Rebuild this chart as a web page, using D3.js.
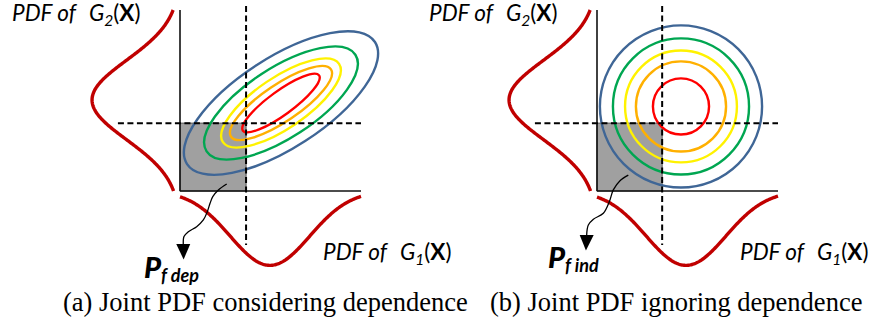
<!DOCTYPE html>
<html><head><meta charset="utf-8">
<script src="https://cdn.jsdelivr.net/npm/d3@7"></script>
<style>body{margin:0;background:#fff} svg{display:block}</style>
</head><body>
<svg id="chart" width="878" height="330"></svg>
<script>
// ---------- data ----------
const panels = ["a", "b"];
const captions = ["(a) Joint PDF considering dependence", "(b) Joint PDF ignoring dependence"];
const pfSubscripts = ["f dep", "f ind"];
const axisDomain = [0, 10];
const g1Mean = [4.97, 4.92];
const g2Mean = [5.03, 5.03];
const marginalSd = [2.2, 2.2];
const limitG1 = [3.65, 3.6];
const limitG2 = [3.75, 3.75];
const contourColors = ["#3f6696", "#00a651", "#fff200", "#ffb000", "#ff0000"];
// panel (a): correlated joint PDF contours (rotated ellipses)
const ellipseCenter = [5.58, 4.86];
const ellipseRx = [6.19, 4.90, 3.87, 3.33, 2.60];
const ellipseRy = [2.49, 1.93, 1.41, 1.02, 0.66];
const ellipseAngle = [33, 33, 34, 34, 36];
// panel (b): independent joint PDF contours (circles)
const circleCenter = [4.64, 4.67];
const circleR = [4.48, 3.76, 3.09, 2.49, 1.55];
// arrows from failure region to P_f labels
const arrowA = [[2.58,0.39],[2.12,0.06],[1.81,-0.31],[1.66,-0.68],[1.51,-1.14],[1.29,-1.60],[0.92,-1.97],[0.46,-2.25],[0.22,-2.52],[0.18,-2.93]];
const arrowB = [[1.73,0.88],[1.27,0.57],[0.90,0.06],[0.68,-0.59],[0.35,-1.23],[-0.20,-1.56],[-0.48,-1.88],[-0.57,-2.43]];
const arrowTips = [[0.20,-3.78],[-0.61,-3.29]];

// ---------- layout ----------
const svg = d3.select("#chart");
const panelLeft = [180, 597];
const plotSize = 181, plotBottom = 191;
const pfPos = [[144, 278], [548, 268]];
const captionX = [63, 490];
const sans = "Lato, 'Open Sans', sans-serif";
const serif = "'Liberation Serif', 'Times New Roman', serif";
const curveRed = "#c00000";

function gauss(v, m, s) { return Math.exp(-((v - m) ** 2) / (2 * s * s)) / (s * Math.sqrt(2 * Math.PI)); }

panels.forEach((p, i) => {
  const ox = panelLeft[i];
  const x = d3.scaleLinear().domain(axisDomain).range([ox, ox + plotSize]);
  const y = d3.scaleLinear().domain(axisDomain).range([plotBottom, plotBottom - plotSize]);
  const unit = x(1) - x(0);
  const densLeft = d3.scaleLinear().domain([0, 0.2]).range([0, 97]);
  const densBottom = d3.scaleLinear().domain([0, 0.2]).range([0, 82]);
  const g = svg.append("g");

  // failure region
  g.append("rect")
    .attr("x", x(0)).attr("y", y(limitG2[i]))
    .attr("width", x(limitG1[i]) - x(0)).attr("height", y(0) - y(limitG2[i]))
    .attr("fill", "#a0a0a0").attr("stroke", "#555").attr("stroke-width", 1);

  // contours
  if (i === 0) {
    const cx = x(ellipseCenter[0]), cy = y(ellipseCenter[1]);
    g.selectAll("ellipse.c").data(ellipseRx).join("ellipse")
      .attr("cx", cx).attr("cy", cy)
      .attr("rx", d => d * unit).attr("ry", (d, k) => ellipseRy[k] * unit)
      .attr("transform", (d, k) => `rotate(${-ellipseAngle[k]},${cx},${cy})`)
      .attr("fill", "none").attr("stroke", (d, k) => contourColors[k]).attr("stroke-width", 2.4);
  } else {
    g.selectAll("circle.c").data(circleR).join("circle")
      .attr("cx", x(circleCenter[0])).attr("cy", y(circleCenter[1]))
      .attr("r", d => d * unit)
      .attr("fill", "none").attr("stroke", (d, k) => contourColors[k]).attr("stroke-width", 2.4);
  }

  // axes
  g.append("line").attr("x1", x(0)).attr("x2", x(0)).attr("y1", y(0)).attr("y2", y(10))
    .attr("stroke", "#111").attr("stroke-width", 1.6);
  g.append("line").attr("x1", x(0)).attr("x2", x(10)).attr("y1", y(0)).attr("y2", y(0))
    .attr("stroke", "#111").attr("stroke-width", 1.6);

  // limit-state dashed lines
  g.append("line").attr("x1", x(limitG1[i])).attr("x2", x(limitG1[i]))
    .attr("y1", y(10.22)).attr("y2", y(-2.98))
    .attr("stroke", "#000").attr("stroke-width", 2).attr("stroke-dasharray", "6,3.5");
  g.append("line").attr("x1", x(-3.43)).attr("x2", x(10)).attr("y1", y(limitG2[i])).attr("y2", y(limitG2[i]))
    .attr("stroke", "#000").attr("stroke-width", 2).attr("stroke-dasharray", "6,3.5");

  // marginal PDFs
  const grid = d3.range(0, 10.001, 0.05);
  g.append("path").datum(grid)
    .attr("d", d3.line().x(v => x(0) - densLeft(gauss(v, g2Mean[i], marginalSd[i]))).y(v => y(v)))
    .attr("fill", "none").attr("stroke", curveRed).attr("stroke-width", 3.4);
  g.append("path").datum(grid)
    .attr("d", d3.line().x(v => x(v)).y(v => y(0) + densBottom(gauss(v, g1Mean[i], marginalSd[i]))))
    .attr("fill", "none").attr("stroke", curveRed).attr("stroke-width", 3.4);

  // arrow
  const pts = i === 0 ? arrowA : arrowB;
  g.append("path").datum(pts)
    .attr("d", d3.line().x(d => x(d[0])).y(d => y(d[1])).curve(d3.curveCatmullRom))
    .attr("fill", "none").attr("stroke", "#000").attr("stroke-width", 1.3);
  const last = pts[pts.length - 1], tip = arrowTips[i];
  g.append("path")
    .attr("d", `M${x(last[0]) - 7},${y(last[1])}L${x(last[0]) + 7},${y(last[1])}L${x(tip[0])},${y(tip[1])}Z`)
    .attr("fill", "#000");

  // labels
  function pdfLabel(tx, ty, sub) {
    const t = g.append("text").attr("x", tx).attr("y", ty)
      .attr("font-family", sans).attr("font-size", 22.5).attr("fill", "#000");
    t.append("tspan").attr("font-style", "italic").text("PDF of");
    t.append("tspan").attr("font-style", "italic").attr("dx", 13).text("G");
    t.append("tspan").attr("font-style", "italic").attr("font-size", 15.5).attr("dy", 5).text(sub);
    t.append("tspan").attr("dy", -5).text("(");
    t.append("tspan").attr("font-weight", "bold").text("X");
    t.append("tspan").text(")");
  }
  pdfLabel(ox - 168, 21, "2");
  pdfLabel(ox + 143, 260, "1");

  const pf = g.append("text").attr("x", pfPos[i][0]).attr("y", pfPos[i][1])
    .attr("font-family", sans).attr("font-weight", "900").attr("font-style", "italic").attr("fill", "#000");
  pf.append("tspan").attr("font-size", 29).text("P");
  pf.append("tspan").attr("font-size", 18).attr("font-weight", "bold").attr("dx", 0).attr("dy", 4).text(pfSubscripts[i]);

  svg.append("text").attr("x", captionX[i]).attr("y", 311)
    .attr("font-family", serif).attr("font-size", 26.5).attr("fill", "#000")
    .text(captions[i]);
});
</script>
</body></html>
